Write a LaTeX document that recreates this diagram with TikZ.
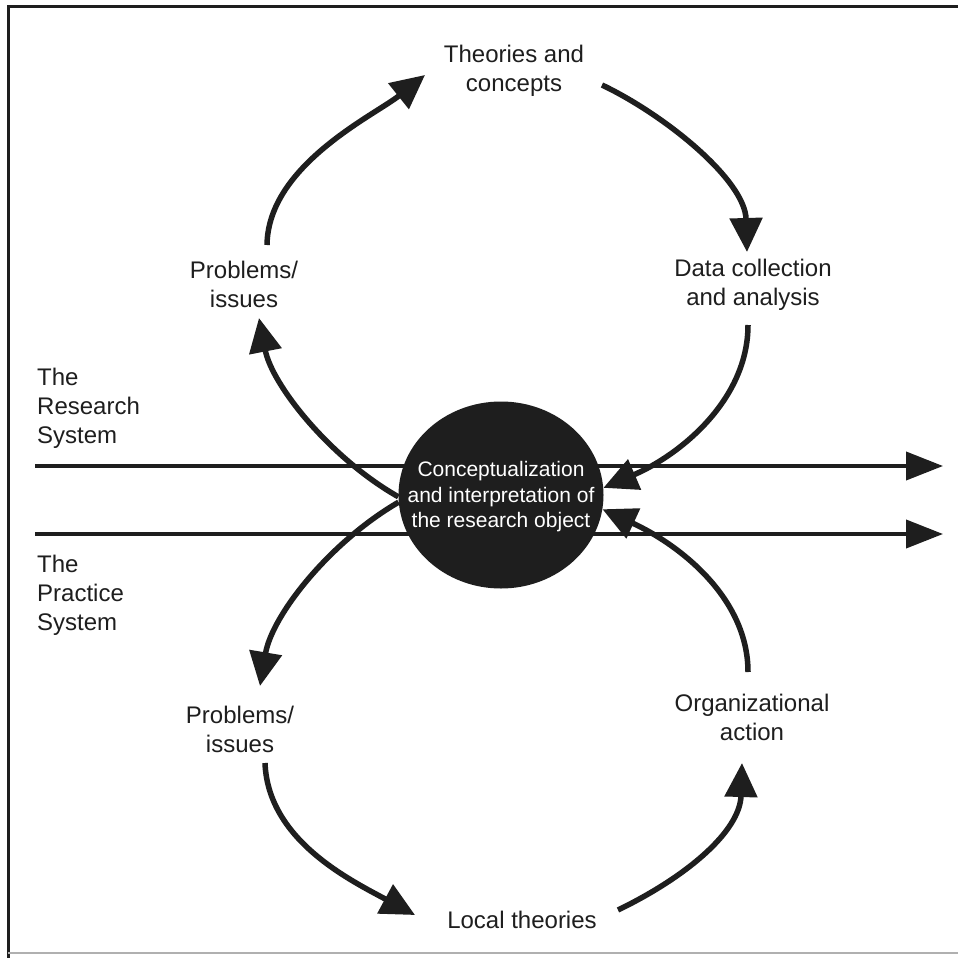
\documentclass[tikz,border=0pt]{standalone}
\usepackage{fontspec}
\setmainfont{Liberation Sans}
\usetikzlibrary{arrows.meta,shapes.geometric}
\definecolor{ink}{HTML}{1E1E1E}
\begin{document}
\begin{tikzpicture}[x=1pt,y=-1pt,
  lbl/.style={font=\fontsize{24}{29}\selectfont, align=center, inner sep=0pt, text=ink, anchor=base},
  sys/.style={font=\fontsize{24}{29}\selectfont, align=left, inner sep=0pt, text=ink, anchor=base west},
  flow/.style={line width=5.5pt, draw=ink, -{Triangle[length=34pt,width=32pt]}},
  axis/.style={line width=4pt, draw=ink, -{Triangle[length=37pt,width=28pt]}},
  frame/.style={line width=3pt, draw=ink},
]
\useasboundingbox (0,0) rectangle (958,958);
\fill[white] (0,0) rectangle (958,958);
% frame
\coordinate (ftl) at (8,7);
\coordinate (ftr) at (958,7);
\coordinate (fbl) at (8,958);
\coordinate (bbl) at (8,953);
\coordinate (bbr) at (958,953);
\draw[frame] (ftr) -- (ftl) -- (fbl);
\draw[line width=1.5pt, draw=ink!35] (bbl) -- (bbr);

% labels (anchor = baseline of the last line)
\node[lbl] (theo) at (514,92) {Theories and\\concepts};
\node[lbl] (data) at (753,305) {Data collection\\and analysis};
\node[lbl] (probT) at (244,307) {Problems/\\issues};
\node[lbl] (probB) at (240,752) {Problems/\\issues};
\node[lbl] (org) at (752,740) {Organizational\\action};
\node[lbl] (local) at (522,928) {Local theories};
\node[sys] (res) at (37,443) {The\\Research\\System};
\node[sys] (pra) at (37,630) {The\\Practice\\System};

% system axes
\coordinate (rs) at (35,466);
\coordinate (re) at (943,466);
\coordinate (ps) at (35,534);
\coordinate (pe) at (943,534);
\draw[axis] (rs) -- (re);
\draw[axis] (ps) -- (pe);

% core
\node[ellipse, fill=ink, minimum width=205pt, minimum height=187pt, inner sep=0pt] (core) at (501,495) {};
\node[font=\fontsize{21}{25.5}\selectfont, align=center, text=white, inner sep=0pt] (coretext) at (501,497)
  {Conceptualization\\and interpretation of\\the research object};

% arc end points
\coordinate (a2s) at (267,245);
\coordinate (a2e) at (425,75);
\coordinate (a3s) at (602,85);
\coordinate (a3e) at (747,252);
\coordinate (a4s) at (748,325);
\coordinate (a1e) at (259,318);
\coordinate (b1e) at (260,686);
\coordinate (b2s) at (265,763);
\coordinate (b2e) at (415,915);
\coordinate (b3s) at (618,910);
\coordinate (b3e) at (742,763);
\coordinate (b4s) at (748,672);

% upper loop
\draw[flow] (core.181) .. controls (330,458) and (272,385) .. (a1e);
\draw[flow] (a2s) .. controls (268,165) and (375,115) .. (a2e);
\draw[flow] (a3s) .. controls (665,115) and (745,180) .. (a3e);
\draw[flow] (a4s) .. controls (748,400) and (680,455) .. (core.4);
% lower loop
\draw[flow] (core.184) .. controls (330,542) and (272,615) .. (b1e);
\draw[flow] (b2s) .. controls (268,840) and (350,880) .. (b2e);
\draw[flow] (b3s) .. controls (690,875) and (740,830) .. (b3e);
\draw[flow] (b4s) .. controls (748,598) and (680,545) .. (core.-8);
\end{tikzpicture}
\end{document}
